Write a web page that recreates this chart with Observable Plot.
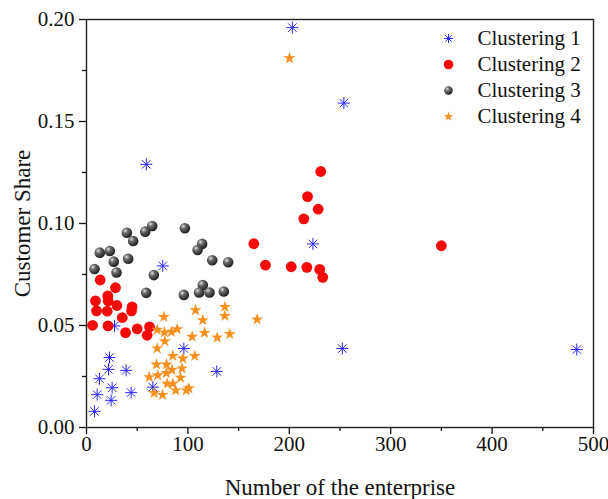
<!DOCTYPE html>
<html><head><meta charset="utf-8">
<script src="https://cdn.jsdelivr.net/npm/d3@7"></script>
<script src="https://cdn.jsdelivr.net/npm/@observablehq/plot@0.6"></script>
<style>
body{margin:0;background:#fff}
#chart{width:608px;height:499px}
</style>
</head><body><div id="chart"></div>
<script>
const seriesNames = ["Clustering 1", "Clustering 2", "Clustering 3", "Clustering 4"];

const c1X = [203, 253.8, 223.3, 75.2, 59, 252.3, 483.5, 27.6, 22.7, 21.7, 39.1, 12.8, 25.3, 10.5, 44, 24.3, 7.9, 65.4, 96, 128.5];
const c1Y = [0.196, 0.159, 0.090, 0.0792, 0.129, 0.0387, 0.0382, 0.0498, 0.0343, 0.0285, 0.028, 0.0239, 0.0195, 0.0161, 0.0171, 0.0133, 0.0079, 0.0198, 0.0387, 0.0275];

const c2X = [13.5, 28.6, 21, 8.9, 21.4, 30, 45, 44.4, 9.9, 20.4, 35.3, 6, 21.2, 38.5, 50, 59.8, 62.2, 165, 176.5, 201.9, 217.3, 230, 233, 231, 218, 228.5, 214.3, 350];
const c2Y = [0.0723, 0.0685, 0.0645, 0.0621, 0.062, 0.0598, 0.0591, 0.0572, 0.0572, 0.0570, 0.0539, 0.0501, 0.0498, 0.0465, 0.0483, 0.0452, 0.0493, 0.0901, 0.0796, 0.0788, 0.0785, 0.0775, 0.0736, 0.1255, 0.1132, 0.107, 0.1023, 0.0891];

const c3X = [64.8, 57.9, 39.8, 46, 13.1, 23, 26.9, 41.1, 7.9, 29.6, 66.4, 58.9, 97, 96, 114, 109.5, 124, 139.7, 114.7, 111, 121.3, 135.4];
const c3Y = [0.0988, 0.096, 0.0955, 0.0914, 0.0857, 0.0865, 0.0813, 0.0827, 0.0777, 0.076, 0.0747, 0.066, 0.0977, 0.065, 0.09, 0.087, 0.082, 0.081, 0.0698, 0.0662, 0.0662, 0.0667];

const c4X = [76.3, 107.5, 136.4, 136.4, 114.7, 116.4, 128.9, 141.3, 104.2, 89.4, 83.8, 76.9, 69.7, 77.2, 69.7, 85.1, 95, 106.8, 69, 78.9, 84.3, 94.2, 78.7, 70.3, 61.8, 92.7, 79.6, 85.1, 66.7, 75, 88, 98.4, 100.9, 168.3, 200.2];
const c4Y = [0.0542, 0.0575, 0.0591, 0.0547, 0.0526, 0.0464, 0.0441, 0.0458, 0.0445, 0.0482, 0.0469, 0.0466, 0.0479, 0.0423, 0.0388, 0.0351, 0.0338, 0.0351, 0.0309, 0.0309, 0.0282, 0.0290, 0.0267, 0.0256, 0.0247, 0.0244, 0.0215, 0.0215, 0.0169, 0.0160, 0.0182, 0.0182, 0.0192, 0.053, 0.181];

const xTicks = [0, 100, 200, 300, 400, 500];
const xMinor = [50, 150, 250, 350, 450];
const yTicks = [0, 0.05, 0.10, 0.15, 0.20];
const yMinor = [0.025, 0.075, 0.125, 0.175];

const xLabel = "Number of the enterprise";
const yLabel = "Customer Share";

const serif = "Liberation Serif";

const zip = (xs, ys) => xs.map((x, i) => ({x, y: ys[i]}));
const s1 = zip(c1X, c1Y), s2 = zip(c2X, c2Y), s3 = zip(c3X, c3Y), s4 = zip(c4X, c4Y);

const asterisk = {
  draw(ctx, size) {
    const r = Math.sqrt(size / Math.PI);
    for (let k = 0; k < 4; k++) {
      const a = k * Math.PI / 4, c = Math.cos(a) * r, s = Math.sin(a) * r;
      ctx.moveTo(c, s); ctx.lineTo(-c, -s);
    }
  }
};

const blue = "#2a2aff", red = "#f50a0a", ball = "url(#ballGrad)", orange = "#f7901e";

const legendSpec = [
  {name: seriesNames[0], symbol: asterisk, stroke: blue, fill: "none", r: 4.5, sw: 1},
  {name: seriesNames[1], symbol: "circle", stroke: "none", fill: red, r: 4.8, sw: 0},
  {name: seriesNames[2], symbol: "circle", stroke: "none", fill: ball, r: 4.2, sw: 0},
  {name: seriesNames[3], symbol: "star", stroke: "none", fill: orange, r: 3, sw: 0}
];

const legendMarks = legendSpec.flatMap((d, i) => [
  Plot.dot([d], {x: null, y: null, frameAnchor: "top-left", dx: 362, dy: 19 + 26 * i, symbol: d.symbol, fill: d.fill, stroke: d.stroke, strokeWidth: d.sw, r: d.r}),
  Plot.text([d.name], {frameAnchor: "top-left", dx: 391, dy: 19 + 26 * i, textAnchor: "start", lineAnchor: "middle", fontSize: 21, fontFamily: serif, fill: "#111"})
]);

const plot = Plot.plot({
  width: 608,
  height: 499,
  marginLeft: 86,
  marginRight: 15,
  marginTop: 19,
  marginBottom: 72,
  style: "font-family: 'Liberation Serif', 'Times New Roman', serif; font-size: 21px; color: #111; background: #fff;",
  x: {domain: [0, 500]},
  y: {domain: [0, 0.2]},
  marks: [
    Plot.axisX({ticks: xTicks, tickSize: 7, tickPadding: 2, label: null, fontSize: 21, fontFamily: serif, strokeWidth: 1.3}),
    Plot.axisX({ticks: xMinor, tickSize: 4, text: null, label: null, strokeWidth: 1.3}),
    Plot.axisY({ticks: yTicks, tickSize: 7, tickPadding: 5, tickFormat: d3.format(".2f"), label: null, fontSize: 21, fontFamily: serif, strokeWidth: 1.3}),
    Plot.axisY({ticks: yMinor, tickSize: 4, text: null, label: null, strokeWidth: 1.3}),
    Plot.text([xLabel], {frameAnchor: "bottom", dy: 60, lineAnchor: "middle", fontSize: 23, fontFamily: serif, fill: "#111"}),
    Plot.text([yLabel], {frameAnchor: "left", dx: -64, rotate: -90, textAnchor: "middle", lineAnchor: "middle", fontSize: 23, fontFamily: serif, fill: "#111"}),
    Plot.dot(s1, {x: "x", y: "y", symbol: asterisk, stroke: blue, strokeWidth: 1, r: 6}),
    Plot.dot(s2, {x: "x", y: "y", fill: red, r: 5.4}),
    Plot.dot(s3, {x: "x", y: "y", fill: ball, r: 5.3}),
    Plot.dot(s4, {x: "x", y: "y", symbol: "star", fill: orange, r: 3.8}),
    ...legendMarks,
    Plot.frame({stroke: "#222", strokeWidth: 1.4})
  ]
});

const svg = d3.select(plot);
const grad = svg.insert("defs", ":first-child").append("radialGradient")
  .attr("id", "ballGrad").attr("cx", "35%").attr("cy", "32%").attr("r", "70%");
grad.append("stop").attr("offset", "0%").attr("stop-color", "#e0e0e0");
grad.append("stop").attr("offset", "35%").attr("stop-color", "#6a6a6a");
grad.append("stop").attr("offset", "100%").attr("stop-color", "#1c1c1c");

document.getElementById("chart").appendChild(plot);
</script>
</body></html>
